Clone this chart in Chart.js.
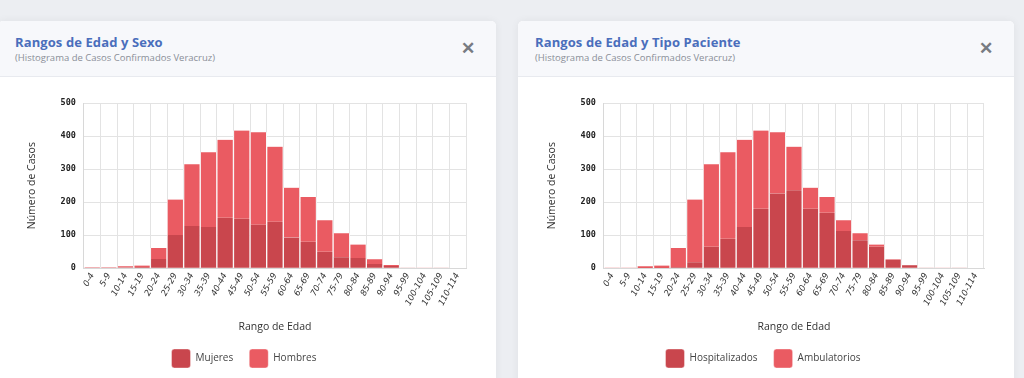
<!DOCTYPE html>
<html><head><meta charset="utf-8">
<script src="https://cdn.jsdelivr.net/npm/chart.js@4.4.1/dist/chart.umd.min.js"></script>
<style>
html,body{margin:0;padding:0;width:1024px;height:378px;overflow:hidden;background:#eceef2;font-family:"Open Sans",Lato,sans-serif;}
.card{position:absolute;top:21px;height:400px;background:#fff;border-radius:5px;box-shadow:0 0 8px rgba(0,0,0,0.06);overflow:hidden;}
.hdr{height:55px;background:#f7f8fb;border-bottom:1px solid #e8eaef;position:relative;}
.t{position:absolute;left:17px;top:12px;font-size:13px;font-weight:700;color:#4a6ebc;letter-spacing:0.1px;}
.s{position:absolute;left:17px;top:30px;font-size:9.5px;color:#8a8f98;}
.x{position:absolute;right:21px;top:15px;font-size:17px;font-weight:700;color:#777b82;}
.cv{position:absolute;left:0;top:69px;}
</style></head><body>
<div class="card" style="left:-2px;width:498px;">
 <div class="hdr"><div class="t">Rangos de Edad y Sexo</div><div class="s">(Histograma de Casos Confirmados Veracruz)</div><div class="x">✕</div></div>
 <div class="cv" style="width:498px;height:288px;"><canvas id="c1"></canvas></div>
</div>
<div class="card" style="left:518px;width:496px;">
 <div class="hdr"><div class="t">Rangos de Edad y Tipo Paciente</div><div class="s">(Histograma de Casos Confirmados Veracruz)</div><div class="x">✕</div></div>
 <div class="cv" style="width:496px;height:288px;"><canvas id="c2"></canvas></div>
</div>
<script>
const categories = ["0-4","5-9","10-14","15-19","20-24","25-29","30-34","35-39","40-44","45-49","50-54","55-59","60-64","65-69","70-74","75-79","80-84","85-89","90-94","95-99","100-104","105-109","110-114"];
const mujeres   = [1,1,3,4,28,101,128,125,153,150,132,141,93,80,50,33,31,13,7,1,0,1,0];
const hombres   = [1,1,3,4,33,107,187,226,236,267,280,227,151,136,95,73,41,14,3,0,1,0,0];
const hospitalizados = [0,0,1,1,4,18,65,89,125,180,226,236,180,168,113,85,65,26,9,1,0,1,0];
const ambulatorios   = [2,2,5,7,57,190,250,262,264,237,186,132,64,48,32,21,7,1,1,0,1,0,0];
const yTicks = [0,100,200,300,400,500];

const DARK = "#c9464d", LIGHT = "#ea5b62";
function ds(label, data, color){
  return {label, data, backgroundColor: color, borderColor: "rgba(255,255,255,0.75)",
    borderWidth: {left:1,right:1,top:0,bottom:0}, borderSkipped: false,
    barPercentage: 1, categoryPercentage: 1};
}
function make(id, a, b){
  new Chart(document.getElementById(id), {
    type: "bar",
    data: {labels: categories, datasets: [ds(a[0], a[1], DARK), ds(b[0], b[1], LIGHT)]},
    options: {
      responsive: true, maintainAspectRatio: false, animation: false,
      layout: {padding: {left: 24, right: 30, top: 13, bottom: 0}},
      plugins: {
        tooltip: {enabled: false},
        legend: {position: "bottom", labels: {boxWidth: 19, boxHeight: 19, padding: 16, useBorderRadius: true, borderRadius: 3,
          color: "#444", font: {family: "Open Sans", size: 10}}}
      },
      scales: {
        x: {stacked: true, offset: true,
          grid: {color: "#e3e3e3", offset: true, drawTicks: false},
          border: {color: "#d8d8d8"},
          ticks: {color: "#333", font: {family: "DejaVu Sans", size: 8.5, style: "italic"}, maxRotation: 62, minRotation: 62, autoSkip: false, padding: 3},
          title: {display: true, text: "Rango de Edad", color: "#333", font: {family: "Open Sans", size: 10.5}, padding: {top: 10, bottom: 0}}
        },
        y: {stacked: true, min: 0, max: 500,
          afterBuildTicks: s => { s.ticks = yTicks.map(v => ({value: v})); },
          grid: {color: "#e3e3e3", drawTicks: false},
          border: {color: "#d8d8d8"},
          ticks: {color: "#222", font: {family: "DejaVu Sans Mono", size: 8.5, weight: "bold"}, padding: 8},
          title: {display: true, text: "Número de Casos", color: "#333", font: {family: "Open Sans", size: 10.5}, padding: {bottom: 14}}
        }
      }
    }
  });
}
make("c1", ["Mujeres", mujeres], ["Hombres", hombres]);
make("c2", ["Hospitalizados", hospitalizados], ["Ambulatorios", ambulatorios]);
</script>
</body></html>
